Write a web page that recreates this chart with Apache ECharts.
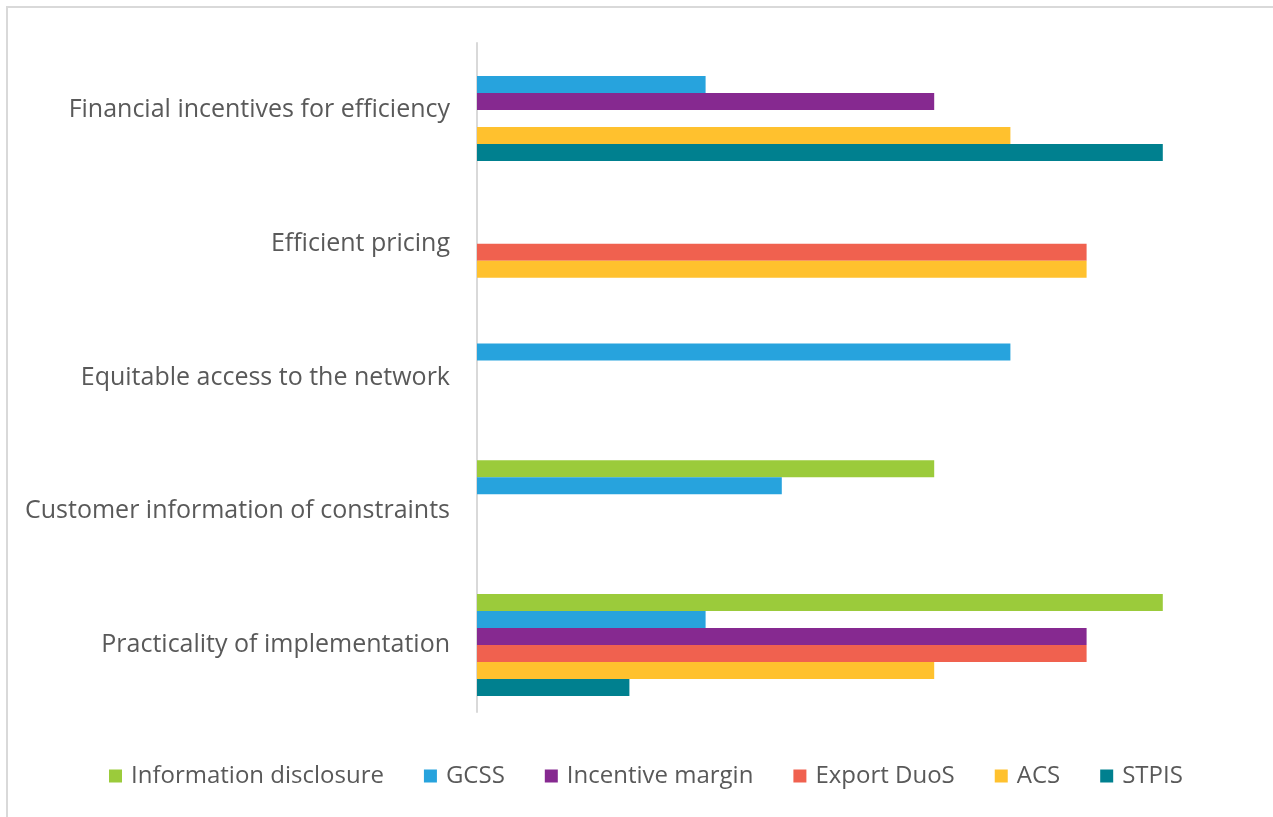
<!DOCTYPE html>
<html>
<head>
<meta charset="utf-8">
<script src="https://cdn.jsdelivr.net/npm/echarts@6/dist/echarts.min.js"></script>
<style>
html,body{margin:0;padding:0;background:#fff;}
#chart{width:1273px;height:817px;}
</style>
</head>
<body>
<div id="chart"></div>
<script>
const categories = [
  "Financial incentives for efficiency",
  "Efficient pricing",
  "Equitable access to the network",
  "Customer information of constraints",
  "Practicality of implementation"
];
const seriesNames = ["Information disclosure", "GCSS", "Incentive margin", "Export DuoS", "ACS", "STPIS"];
const informationDisclosure = [null, null, null, 6, 9];
const gcss = [3, null, 7, 4, 3];
const incentiveMargin = [6, null, null, null, 8];
const exportDuos = [null, 8, null, null, 8];
const acs = [7, 8, null, null, 6];
const stpis = [9, null, null, null, 2];
const seriesValues = [informationDisclosure, gcss, incentiveMargin, exportDuos, acs, stpis];
const colors = ["#9BCB3B", "#27A3DD", "#862990", "#F0614F", "#FFC12E", "#00808F"];

const chart = echarts.init(document.getElementById('chart'));
const FONT = "'Open Sans', 'Noto Sans', sans-serif";
chart.setOption({
  animation: false,
  color: colors,
  textStyle: {fontFamily: FONT},
  graphic: [{
    type: 'rect',
    shape: {x: 7, y: 7, width: 1300, height: 900},
    style: {fill: 'none', stroke: '#D9D9D9', lineWidth: 2},
    silent: true
  }],
  grid: {left: 477, right: 34, top: 43, bottom: 105, containLabel: false},
  legend: {
    data: seriesNames,
    top: 759,
    left: 104,
    icon: 'rect',
    itemWidth: 13,
    itemHeight: 13,
    itemGap: 40,
    textStyle: {fontSize: 24, color: '#595959', fontFamily: FONT, padding: [0, 0, 0, 4]}
  },
  xAxis: {
    type: 'value',
    min: 0,
    max: 10,
    show: false,
    splitLine: {show: false}
  },
  yAxis: {
    type: 'category',
    data: categories,
    inverse: true,
    axisTick: {show: false},
    axisLine: {lineStyle: {color: '#D9D9D9', width: 2}},
    axisLabel: {fontSize: 25, color: '#595959', margin: 27, fontFamily: FONT}
  },
  series: seriesNames.map((name, i) => ({
    name: name,
    type: 'bar',
    data: seriesValues[i],
    barWidth: 17,
    barGap: '0%'
  }))
});
</script>
</body>
</html>
